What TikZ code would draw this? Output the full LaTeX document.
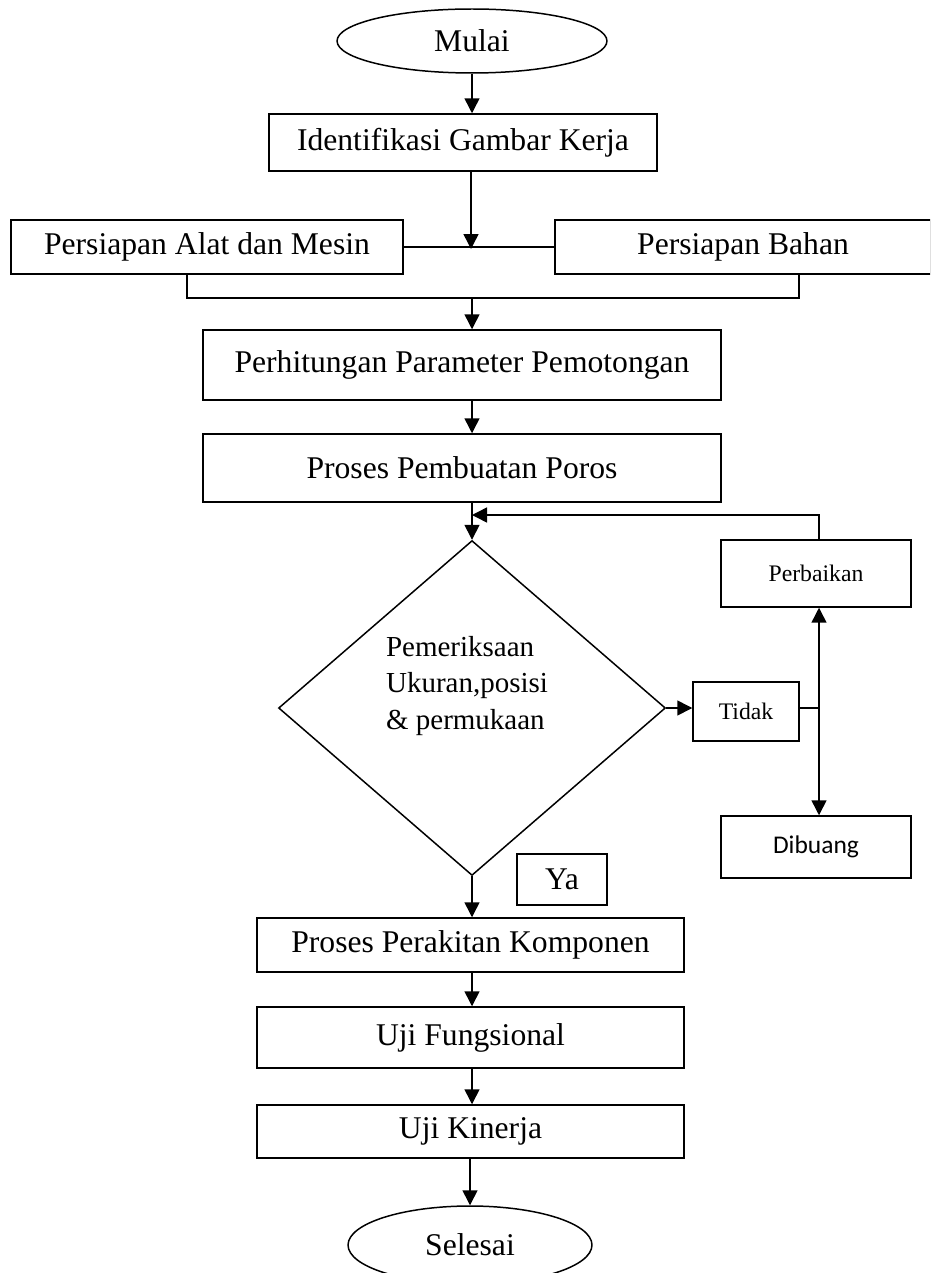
\documentclass[tikz,border=0pt]{standalone}
\usepackage{fontspec}
\setmainfont{Liberation Serif}
\newfontfamily\calibri{Carlito}
\usetikzlibrary{shapes.geometric,arrows.meta}

\begin{document}
\begin{tikzpicture}[
    x=0.02cm, y=-0.02cm,
    line width=0.85pt,
    box/.style={rectangle, draw, inner sep=0pt, align=center, font=\fontsize{18}{21}\selectfont},
    smallbox/.style={box, font=\fontsize{13.5}{16}\selectfont},
    terminal/.style={ellipse, draw, inner sep=0pt, font=\fontsize{18}{21}\selectfont},
    decision/.style={diamond, draw, inner sep=0pt, minimum width=7.74cm, minimum height=6.7cm},
    arrow/.style={-{Triangle[length=0.3cm,width=0.3cm]}}
]
\clip (0,0) rectangle (930,1273);

% Start and preparation
\node[terminal, minimum width=5.4cm, minimum height=1.28cm] (mulai) at (472,41) {Mulai};
\node[box, minimum width=7.76cm, minimum height=1.14cm] (ident) at (463,142.5) {Identifikasi Gambar Kerja};
\node[box, minimum width=7.84cm, minimum height=1.08cm] (alat) at (207,247) {Persiapan Alat dan Mesin};
\node[box, minimum width=7.52cm, minimum height=1.08cm] (bahan) at (743,247) {Persiapan Bahan};

% Machining
\node[box, minimum width=10.36cm, minimum height=1.4cm] (hitung) at (462,365) {Perhitungan Parameter Pemotongan};
\node[box, minimum width=10.36cm, minimum height=1.36cm] (poros) at (462,468) {Proses Pembuatan Poros};

% Inspection
\node[decision] (cek) at (472,708) {};
\node[align=left, inner sep=0pt, font=\fontsize{16.5}{21}\selectfont] (cekteks) at (467,686) {Pemeriksaan\\Ukuran,posisi\\\& permukaan};
\node[smallbox, minimum width=3.8cm, minimum height=1.34cm] (perbaikan) at (816,573.5) {Perbaikan};
\node[smallbox, minimum width=2.12cm, minimum height=1.18cm] (tidak) at (746,711.5) {Tidak};
\node[box, minimum width=3.8cm, minimum height=1.24cm, font=\calibri\fontsize{14.5}{17}\selectfont] (dibuang) at (816,847) {Dibuang};
\node[box, minimum width=1.8cm, minimum height=1.02cm] (ya) at (562,879.5) {Ya};

% Assembly and testing
\node[box, minimum width=8.54cm, minimum height=1.08cm] (rakit) at (470.5,945) {Proses Perakitan Komponen};
\node[box, minimum width=8.54cm, minimum height=1.22cm] (fungsi) at (470.5,1037.5) {Uji Fungsional};
\node[box, minimum width=8.54cm, minimum height=1.06cm] (kinerja) at (470.5,1131.5) {Uji Kinerja};
\node[terminal, minimum width=4.88cm, minimum height=1.56cm] (selesai) at (470,1245) {Selesai};

% Junction points
\coordinate (gabung1) at (471,249);
\coordinate (kiri) at (187,298);
\coordinate (kanan) at (799,298);
\coordinate (gabung2) at (472,298);
\coordinate (balik) at (472,515);
\coordinate (cabang) at (819,708);

% Connections
\draw[arrow] (mulai.south) -- (mulai.south |- ident.north);
\draw[arrow] (gabung1 |- ident.south) -- (gabung1);
\draw (alat.east) -- (bahan.west);
\draw (kiri |- alat.south) -- (kiri) -- (kanan) -- (kanan |- bahan.south);
\draw[arrow] (gabung2) -- (gabung2 |- hitung.north);
\draw[arrow] (hitung.south -| cek) -- (poros.north -| cek);
\draw[arrow] (poros.south -| cek) -- (cek.north);

\draw[arrow] (cek.east) -- (cek.east -| tidak.west);
\draw (tidak.east |- cabang) -- (cabang);
\draw[arrow] (cabang) -- (cabang |- perbaikan.south);
\draw[arrow] (cabang) -- (cabang |- dibuang.north);
\draw[arrow] (perbaikan.north -| cabang) |- (balik);

\draw[arrow] (cek.south) -- (cek.south |- rakit.north);
\draw[arrow] (rakit.south -| cek) -- (fungsi.north -| cek);
\draw[arrow] (fungsi.south -| cek) -- (kinerja.north -| cek);
\draw[arrow] (kinerja.south -| selesai) -- (selesai.north);

\end{tikzpicture}
\end{document}
